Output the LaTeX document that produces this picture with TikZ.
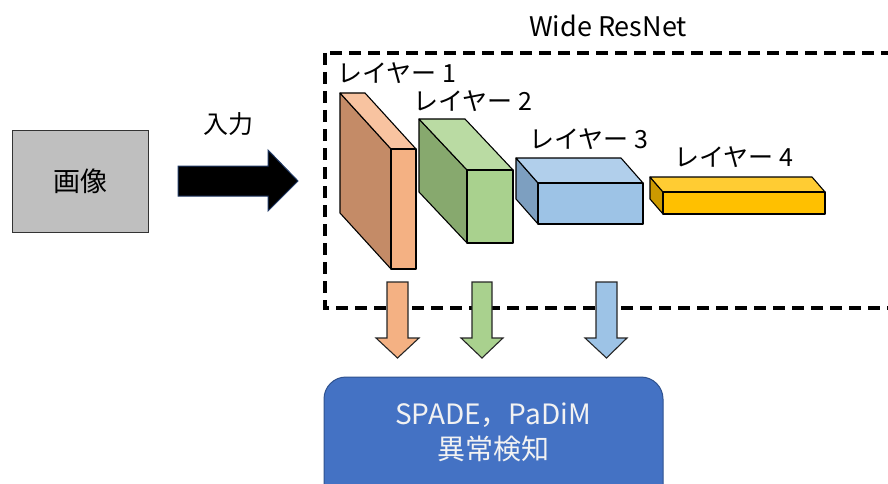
\documentclass[tikz,border=0pt]{standalone}
\usepackage{fontspec}
\setmainfont{Noto Sans CJK JP}
\definecolor{imggray}{HTML}{BFBFBF}
\definecolor{oFront}{HTML}{F4B183}
\definecolor{oTop}{HTML}{F8C3A0}
\definecolor{oSide}{HTML}{C48B67}
\definecolor{gFront}{HTML}{A9D18E}
\definecolor{gTop}{HTML}{BADBA3}
\definecolor{gSide}{HTML}{87A96E}
\definecolor{bFront}{HTML}{9DC3E6}
\definecolor{bTop}{HTML}{B1CFEB}
\definecolor{bSide}{HTML}{7D9FC0}
\definecolor{yFront}{HTML}{FFC000}
\definecolor{yTop}{HTML}{FFCC33}
\definecolor{ySide}{HTML}{CC9A00}
\definecolor{detBlue}{HTML}{4472C4}
\definecolor{detEdge}{HTML}{2F528F}
\definecolor{arrEdge}{HTML}{203864}
\newcommand\mylayerbox[9]{%
  \filldraw[fill=#9,boxline] (#1,#2) -- (#1,#4) -- ({#1+#5},{#4+#6}) -- ({#1+#5},{#2+#6}) -- cycle;
  \filldraw[fill=#8,boxline] (#1,#2) -- (#3,#2) -- ({#3+#5},{#2+#6}) -- ({#1+#5},{#2+#6}) -- cycle;
  \filldraw[fill=#7,boxline] (#1,#2) rectangle (#3,#4);
}
\begin{document}
\begin{tikzpicture}[x=1pt,y=-1pt,
  boxline/.style={draw=black, line width=1.1pt, line join=round},
  lbl/.style={font=\fontsize{25}{30}\selectfont, inner sep=0pt},
  downarrow/.style={draw=black!85, line width=1.1pt, line join=miter}]
\useasboundingbox (0,0) rectangle (888,484);
\clip (0,0) rectangle (888,484);
% image box
\node[draw=black!80, line width=1pt, fill=imggray, minimum width=136pt, minimum height=102pt, font=\fontsize{27}{32}\selectfont] (img) at (80,181) {画像};
% input arrow
\filldraw[fill=black, draw=arrEdge, line width=1pt] (178,166) -- (268,166) -- (268,150) -- (298,181) -- (268,211) -- (268,196) -- (178,196) -- cycle;
\node[lbl] (inlbl) at (228,124) {入力};
% dashed frame
\draw[line width=3.8pt, dash pattern=on 12pt off 7pt] (325,53) rectangle (905,308);
\node[lbl, font=\fontsize{27}{32}\selectfont] (wrn) at (608,26) {Wide ResNet};
% layers
\mylayerbox{391}{149}{416}{269}{-51}{-56}{oFront}{oTop}{oSide}
\mylayerbox{467}{170}{513}{243}{-48}{-51}{gFront}{gTop}{gSide}
\mylayerbox{538}{183}{643}{224}{-22}{-25}{bFront}{bTop}{bSide}
\mylayerbox{663}{192}{825}{214}{-13}{-15}{yFront}{yTop}{ySide}
\node[lbl] (l1) at (397,73) {レイヤー 1};
\node[lbl] (l2) at (473,101) {レイヤー 2};
\node[lbl] (l3) at (589,139) {レイヤー 3};
\node[lbl] (l4) at (734,157) {レイヤー 4};
% down arrows
\filldraw[fill=oFront, downarrow] (387,282) -- (408,282) -- (408,338) -- (419,338) -- (397.5,358) -- (376,338) -- (387,338) -- cycle;
\filldraw[fill=gFront, downarrow] (472,282) -- (492,282) -- (492,338) -- (503,338) -- (482,358) -- (461,338) -- (472,338) -- cycle;
\filldraw[fill=bFront, downarrow] (596,282) -- (617,282) -- (617,338) -- (627,338) -- (606.5,358) -- (585,338) -- (596,338) -- cycle;
% detection box
\filldraw[fill=detBlue, draw=detEdge, line width=1pt, rounded corners=22pt] (324,377) rectangle (663,540);
\node[text=white!95!black, align=center, font=\fontsize{28}{35}\selectfont] (det) at (493,432) {SPADE，PaDiM\\異常検知};
\end{tikzpicture}
\end{document}
